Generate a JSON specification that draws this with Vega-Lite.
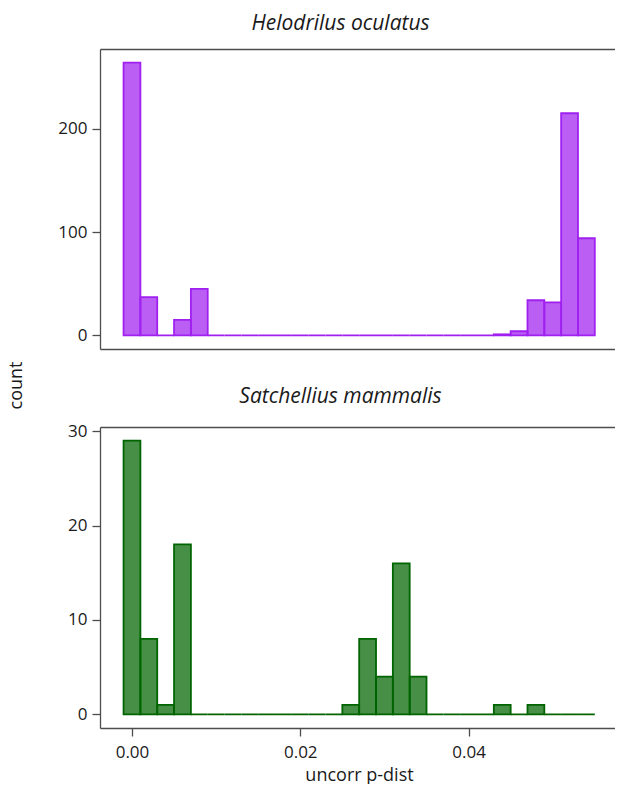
{
  "$schema": "https://vega.github.io/schema/vega-lite/v6.json",
  "padding": {"left": 7, "top": 13, "right": 0, "bottom": 0},
  "config": {
    "view": {"stroke": null},
    "font": "Open Sans",
    "axis": {
      "grid": false,
      "domainColor": "#4d4d4d",
      "domainWidth": 1.3,
      "tickColor": "#4d4d4d",
      "tickWidth": 1.3,
      "tickSize": 8,
      "labelFont": "Open Sans",
      "labelFontSize": 17,
      "labelColor": "#1a1a1a",
      "titleFont": "Open Sans",
      "titleFontSize": 18,
      "titleFontWeight": "normal",
      "titleColor": "#1a1a1a"
    },
    "title": {"font": "Open Sans", "fontSize": 21, "fontStyle": "italic", "fontWeight": "normal", "color": "#1a1a1a"}
  },
  "datasets": {
    "helodrilus": [
      {"lo": -0.001, "hi": 0.001, "count": 264},
      {"lo": 0.001, "hi": 0.003, "count": 37},
      {"lo": 0.003, "hi": 0.005, "count": 0},
      {"lo": 0.005, "hi": 0.007, "count": 15},
      {"lo": 0.007, "hi": 0.009, "count": 45},
      {"lo": 0.009, "hi": 0.011, "count": 0},
      {"lo": 0.011, "hi": 0.013, "count": 0},
      {"lo": 0.013, "hi": 0.015, "count": 0},
      {"lo": 0.015, "hi": 0.017, "count": 0},
      {"lo": 0.017, "hi": 0.019, "count": 0},
      {"lo": 0.019, "hi": 0.021, "count": 0},
      {"lo": 0.021, "hi": 0.023, "count": 0},
      {"lo": 0.023, "hi": 0.025, "count": 0},
      {"lo": 0.025, "hi": 0.027, "count": 0},
      {"lo": 0.027, "hi": 0.029, "count": 0},
      {"lo": 0.029, "hi": 0.031, "count": 0},
      {"lo": 0.031, "hi": 0.033, "count": 0},
      {"lo": 0.033, "hi": 0.035, "count": 0},
      {"lo": 0.035, "hi": 0.037, "count": 0},
      {"lo": 0.037, "hi": 0.039, "count": 0},
      {"lo": 0.039, "hi": 0.041, "count": 0},
      {"lo": 0.041, "hi": 0.043, "count": 0},
      {"lo": 0.043, "hi": 0.045, "count": 1},
      {"lo": 0.045, "hi": 0.047, "count": 4},
      {"lo": 0.047, "hi": 0.049, "count": 34},
      {"lo": 0.049, "hi": 0.051, "count": 32},
      {"lo": 0.051, "hi": 0.053, "count": 215},
      {"lo": 0.053, "hi": 0.055, "count": 94}
    ],
    "satchellius": [
      {"lo": -0.001, "hi": 0.001, "count": 29},
      {"lo": 0.001, "hi": 0.003, "count": 8},
      {"lo": 0.003, "hi": 0.005, "count": 1},
      {"lo": 0.005, "hi": 0.007, "count": 18},
      {"lo": 0.007, "hi": 0.009, "count": 0},
      {"lo": 0.009, "hi": 0.011, "count": 0},
      {"lo": 0.011, "hi": 0.013, "count": 0},
      {"lo": 0.013, "hi": 0.015, "count": 0},
      {"lo": 0.015, "hi": 0.017, "count": 0},
      {"lo": 0.017, "hi": 0.019, "count": 0},
      {"lo": 0.019, "hi": 0.021, "count": 0},
      {"lo": 0.021, "hi": 0.023, "count": 0},
      {"lo": 0.023, "hi": 0.025, "count": 0},
      {"lo": 0.025, "hi": 0.027, "count": 1},
      {"lo": 0.027, "hi": 0.029, "count": 8},
      {"lo": 0.029, "hi": 0.031, "count": 4},
      {"lo": 0.031, "hi": 0.033, "count": 16},
      {"lo": 0.033, "hi": 0.035, "count": 4},
      {"lo": 0.035, "hi": 0.037, "count": 0},
      {"lo": 0.037, "hi": 0.039, "count": 0},
      {"lo": 0.039, "hi": 0.041, "count": 0},
      {"lo": 0.041, "hi": 0.043, "count": 0},
      {"lo": 0.043, "hi": 0.045, "count": 1},
      {"lo": 0.045, "hi": 0.047, "count": 0},
      {"lo": 0.047, "hi": 0.049, "count": 1},
      {"lo": 0.049, "hi": 0.051, "count": 0},
      {"lo": 0.051, "hi": 0.053, "count": 0},
      {"lo": 0.053, "hi": 0.055, "count": 0}
    ]
  },
  "spacing": 78,
  "bounds": "flush",
  "vconcat": [
    {
      "title": {"text": "Helodrilus oculatus", "offset": 15, "dx": -17},
      "width": 515,
      "height": 300,
      "data": {"name": "helodrilus"},
      "resolve": {"axis": {"x": "independent"}},
      "layer": [
        {
          "mark": {"type": "bar", "fill": "#a020f0", "fillOpacity": 0.72, "stroke": "#a020f0", "strokeWidth": 1.8},
          "encoding": {
            "x": {"field": "lo", "type": "quantitative", "scale": {"domain": [-0.0038, 0.0574], "nice": false, "zero": false},
                  "axis": {"orient": "bottom", "labels": false, "ticks": false, "title": null}},
            "x2": {"field": "hi"},
            "y": {"field": "count", "type": "quantitative", "scale": {"domain": [-13.2, 277.2], "nice": false, "zero": false},
                  "axis": {"values": [0, 100, 200], "labelPadding": 5, "title": "count", "titleX": -79, "titleY": 336, "titleAngle": -90, "titleAlign": "center", "titleBaseline": "alphabetic"}},
            "y2": {"datum": 0}
          }
        },
        {
          "mark": {"type": "rule", "opacity": 0},
          "encoding": {
            "x": {"field": "lo", "type": "quantitative", "axis": {"orient": "top", "labels": false, "ticks": false, "title": null}}
          }
        }
      ]
    },
    {
      "title": {"text": "Satchellius mammalis", "offset": 15, "dx": -17},
      "width": 515,
      "height": 301,
      "data": {"name": "satchellius"},
      "resolve": {"axis": {"x": "independent"}},
      "layer": [
        {
          "mark": {"type": "bar", "fill": "#006400", "fillOpacity": 0.72, "stroke": "#006400", "strokeWidth": 1.8},
          "encoding": {
            "x": {"field": "lo", "type": "quantitative", "scale": {"domain": [-0.0038, 0.0574], "nice": false, "zero": false},
                  "axis": {"orient": "bottom", "values": [0, 0.02, 0.04], "format": ".2f", "labelPadding": 8, "title": "uncorr p-dist", "titlePadding": 6, "titleX": 259}},
            "x2": {"field": "hi"},
            "y": {"field": "count", "type": "quantitative", "scale": {"domain": [-1.45, 30.45], "nice": false, "zero": false},
                  "axis": {"values": [0, 10, 20, 30], "labelPadding": 5, "title": null}},
            "y2": {"datum": 0}
          }
        },
        {
          "mark": {"type": "rule", "opacity": 0},
          "encoding": {
            "x": {"field": "lo", "type": "quantitative", "axis": {"orient": "top", "labels": false, "ticks": false, "title": null}}
          }
        }
      ]
    }
  ]
}
